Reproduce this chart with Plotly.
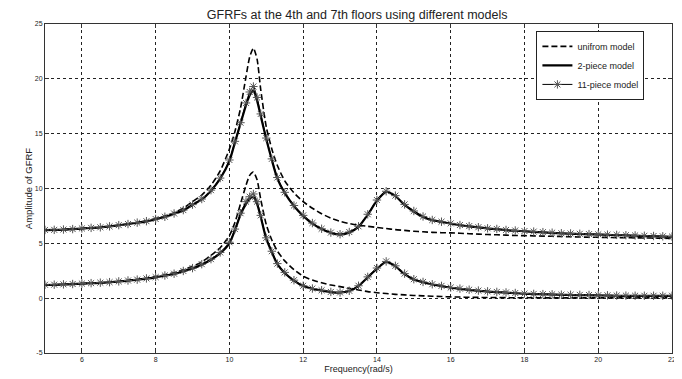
import plotly.graph_objects as go

# Frequency grid (rad/s)
FREQ = [5.0, 5.25, 5.5, 5.75, 6.0, 6.25, 6.5, 6.75, 7.0, 7.25, 7.5, 7.75, 8.0, 8.25, 8.5, 8.75,
        9.0, 9.25, 9.5, 9.75, 10.0,
        10.15, 10.3, 10.45, 10.55, 10.65, 10.75, 10.85, 11.0, 11.15, 11.3,
        11.5, 11.75, 12.0, 12.25, 12.5, 12.75, 13.0, 13.25, 13.5, 13.75, 14.0, 14.25, 14.5, 14.75,
        15.0, 15.25, 15.5, 15.75, 16.0, 16.25, 16.5, 16.75, 17.0, 17.25, 17.5, 17.75, 18.0, 18.25,
        18.5, 18.75, 19.0, 19.25, 19.5, 19.75, 20.0, 20.25, 20.5, 20.75, 21.0, 21.25, 21.5, 21.75, 22.0]

# 7th floor (upper curves)
UNIFORM_7 = [6.20, 6.22, 6.25, 6.30, 6.35, 6.40, 6.47, 6.55, 6.65, 6.77, 6.90, 7.05, 7.25, 7.50, 7.80, 8.20,
             8.80, 9.40, 10.30, 11.60, 13.60,
             15.20, 17.30, 20.20, 22.00, 22.80, 21.80, 19.00, 15.60, 13.60, 12.10,
             10.70, 9.60, 8.80, 8.20, 7.70, 7.30, 7.00, 6.80, 6.65, 6.55, 6.45, 6.35, 6.25, 6.18,
             6.10, 6.05, 6.00, 5.97, 5.95, 5.92, 5.88, 5.84, 5.80, 5.78, 5.75, 5.72, 5.70, 5.68,
             5.66, 5.64, 5.62, 5.60, 5.58, 5.56, 5.55, 5.54, 5.52, 5.51, 5.50, 5.49, 5.47, 5.46, 5.45]
PIECE2_7 = [6.20, 6.22, 6.25, 6.30, 6.35, 6.40, 6.45, 6.55, 6.65, 6.75, 6.88, 7.00, 7.20, 7.40, 7.70, 8.00,
            8.50, 9.00, 9.80, 10.90, 12.50,
            14.20, 15.90, 17.60, 18.50, 18.90, 18.00, 16.60, 14.50, 12.60, 10.90,
            9.60, 8.40, 7.50, 6.80, 6.30, 5.95, 5.80, 6.00, 6.50, 7.60, 8.90, 9.70, 9.30, 8.50,
            7.90, 7.40, 7.10, 6.95, 6.80, 6.65, 6.55, 6.45, 6.35, 6.30, 6.20, 6.15, 6.10, 6.05,
            6.00, 5.95, 5.90, 5.88, 5.85, 5.82, 5.80, 5.77, 5.75, 5.72, 5.70, 5.67, 5.65, 5.62, 5.60]
PIECE11_7 = [6.22, 6.23, 6.26, 6.30, 6.36, 6.41, 6.46, 6.55, 6.66, 6.76, 6.89, 7.02, 7.22, 7.42, 7.72, 8.03,
             8.53, 9.04, 9.85, 10.95, 12.60,
             14.30, 16.00, 17.80, 18.80, 19.30, 18.30, 16.80, 14.60, 12.70, 11.00,
             9.65, 8.45, 7.55, 6.85, 6.33, 5.98, 5.83, 6.03, 6.55, 7.65, 8.95, 9.75, 9.35, 8.55,
             7.95, 7.45, 7.13, 6.97, 6.82, 6.67, 6.57, 6.47, 6.37, 6.31, 6.22, 6.17, 6.12, 6.07,
             6.02, 5.97, 5.92, 5.90, 5.87, 5.84, 5.82, 5.79, 5.77, 5.74, 5.72, 5.69, 5.67, 5.64, 5.62]

# 4th floor (lower curves)
UNIFORM_4 = [1.20, 1.22, 1.25, 1.28, 1.32, 1.36, 1.41, 1.46, 1.53, 1.61, 1.70, 1.82, 1.97, 2.13, 2.32, 2.58,
             2.90, 3.30, 3.90, 4.60, 5.70,
             6.90, 8.60, 10.30, 11.20, 11.50, 10.80, 9.00, 6.70, 5.30, 4.30,
             3.40, 2.60, 2.00, 1.65, 1.40, 1.20, 1.05, 0.90, 0.75, 0.60, 0.50, 0.42, 0.35, 0.30,
             0.25, 0.21, 0.18, 0.15, 0.12, 0.10, 0.08, 0.07, 0.06, 0.05, 0.05, 0.04, 0.04, 0.04,
             0.03, 0.03, 0.03, 0.03, 0.03, 0.03, 0.03, 0.03, 0.03, 0.03, 0.03, 0.03, 0.03, 0.03, 0.03]
PIECE2_4 = [1.20, 1.22, 1.25, 1.28, 1.32, 1.36, 1.40, 1.45, 1.52, 1.60, 1.68, 1.78, 1.90, 2.05, 2.20, 2.45,
            2.70, 3.05, 3.50, 4.10, 5.00,
            6.20, 7.60, 8.60, 9.05, 9.20, 8.60, 7.40, 5.40, 4.20, 3.10,
            2.30, 1.60, 1.10, 0.85, 0.70, 0.55, 0.50, 0.65, 1.10, 1.90, 2.70, 3.30, 2.90, 2.20,
            1.70, 1.45, 1.25, 1.10, 0.95, 0.85, 0.75, 0.67, 0.60, 0.55, 0.50, 0.45, 0.40, 0.37,
            0.35, 0.33, 0.30, 0.29, 0.28, 0.27, 0.25, 0.24, 0.22, 0.21, 0.20, 0.20, 0.20, 0.20, 0.20]
PIECE11_4 = [1.22, 1.23, 1.26, 1.29, 1.33, 1.37, 1.41, 1.46, 1.53, 1.61, 1.69, 1.80, 1.92, 2.07, 2.23, 2.48,
             2.74, 3.10, 3.56, 4.17, 5.10,
             6.30, 7.75, 8.80, 9.25, 9.50, 8.80, 7.55, 5.50, 4.28, 3.15,
             2.35, 1.64, 1.13, 0.88, 0.72, 0.57, 0.52, 0.67, 1.13, 1.94, 2.75, 3.35, 2.95, 2.24,
             1.73, 1.48, 1.27, 1.12, 0.97, 0.87, 0.77, 0.69, 0.62, 0.57, 0.52, 0.47, 0.42, 0.39,
             0.37, 0.35, 0.32, 0.31, 0.30, 0.29, 0.27, 0.26, 0.24, 0.23, 0.22, 0.22, 0.22, 0.22, 0.22]

X_TICKS = [6, 8, 10, 12, 14, 16, 18, 20, 22]
Y_TICKS = [-5, 0, 5, 10, 15, 20, 25]

FONT = "Liberation Sans, Arial, sans-serif"

fig = go.Figure()

uni_style = dict(color="black", width=1.6, dash="6px,3px", shape="spline", smoothing=0.6)
p2_style = dict(color="black", width=2.2, shape="spline", smoothing=0.6)
p11_line = dict(color="black", width=1, shape="spline", smoothing=0.6)
p11_marker = dict(symbol="asterisk-open", size=7, color="#555555",
                  line=dict(color="#555555", width=1))

fig.add_trace(go.Scatter(x=FREQ, y=UNIFORM_7, mode="lines", line=uni_style,
                         name="unifrom model", legendgroup="u"))
fig.add_trace(go.Scatter(x=FREQ, y=UNIFORM_4, mode="lines", line=uni_style,
                         name="unifrom model", legendgroup="u", showlegend=False))
fig.add_trace(go.Scatter(x=FREQ, y=PIECE2_7, mode="lines", line=p2_style,
                         name="2-piece model", legendgroup="p2"))
fig.add_trace(go.Scatter(x=FREQ, y=PIECE2_4, mode="lines", line=p2_style,
                         name="2-piece model", legendgroup="p2", showlegend=False))
fig.add_trace(go.Scatter(x=FREQ, y=PIECE11_7, mode="lines+markers", line=p11_line,
                         marker=p11_marker, name="11-piece model", legendgroup="p11"))
fig.add_trace(go.Scatter(x=FREQ, y=PIECE11_4, mode="lines+markers", line=p11_line,
                         marker=p11_marker, name="11-piece model", legendgroup="p11",
                         showlegend=False))

axis_common = dict(
    showline=True, linecolor="#333333", linewidth=1, mirror="ticks",
    ticks="inside", ticklen=4, tickcolor="#333333",
    showgrid=True, gridcolor="#222222", gridwidth=1, griddash="3px,3px",
    zeroline=False,
    tickfont=dict(family=FONT, size=7, color="#222222"),
)

# The page body adds an 8px offset, so the figure is 8px smaller than the window.
fig.update_layout(
    width=674, height=371,
    margin=dict(l=37, r=6, t=16, b=25),
    paper_bgcolor="white", plot_bgcolor="white",
    title=dict(text="GFRFs at the 4th and 7th floors using different models",
               x=0.518, xanchor="center", y=0.982, yanchor="middle",
               font=dict(family=FONT, size=12.5, color="#222222")),
    xaxis=dict(range=[5, 22], tickvals=X_TICKS, ticktext=[str(v) for v in X_TICKS],
               title=dict(text="Frequency(rad/s)", standoff=3,
                          font=dict(family=FONT, size=9, color="#222222")),
               **axis_common),
    yaxis=dict(range=[-5, 25], tickvals=Y_TICKS, ticktext=[str(v) for v in Y_TICKS],
               title=dict(text="Amplitude of GFRF", standoff=0,
                          font=dict(family=FONT, size=9.5, color="#222222")),
               **axis_common),
    legend=dict(x=0.956, y=0.979, xanchor="right", yanchor="top",
                bgcolor="white", bordercolor="#222222", borderwidth=1,
                font=dict(family=FONT, size=9, color="#222222"),
                tracegroupgap=0, itemwidth=30),
    showlegend=True,
)

fig.write_html("out.html")
